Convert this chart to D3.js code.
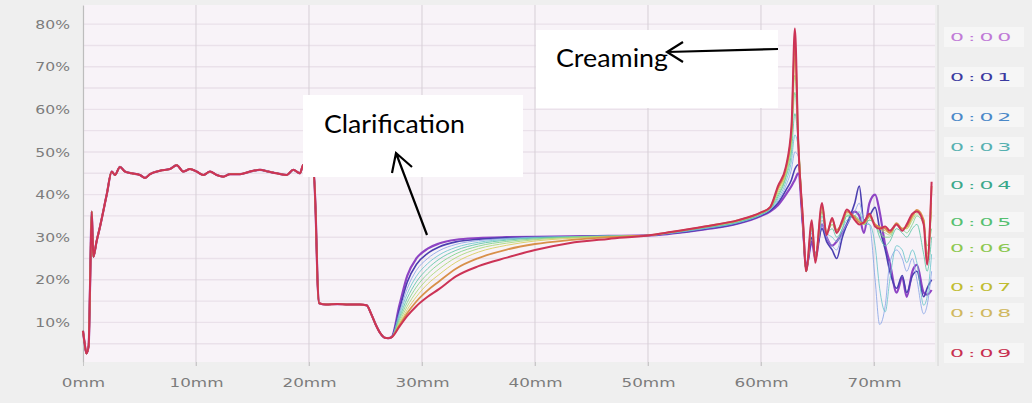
<!DOCTYPE html>
<html>
<head>
<meta charset="utf-8">
<script src="https://cdn.jsdelivr.net/npm/d3@7"></script>
<style>
  html, body { margin: 0; padding: 0; background: #efefef; }
  svg { display: block; }
</style>
</head>
<body>
<svg id="chart" width="1032" height="403"></svg>
<script>
// ---------- data ----------
const seriesLabels = ["0:00", "0:01", "0:02", "0:03", "0:04", "0:05", "0:06", "0:07", "0:08", "0:09"];

// Common trace shared by every scan from the bottom of the tube up to the clear zone (mm, %)
const leadMm = [0, 0.15, 0.3, 0.5, 0.62, 0.77, 0.85, 0.92, 1.2, 1.5, 2.1, 2.54, 2.83, 3.27, 3.72, 4.3,
  5.04, 5.49, 5.93, 6.81, 7.7, 8.29, 8.88, 9.47, 10.06, 10.65, 11.24, 11.83, 12.42, 13.0, 13.9, 14.78,
  15.66, 16.4, 17.14, 18.02, 18.61, 19.2, 19.5, 20.0, 20.4, 20.6, 20.75, 20.9, 21.5, 22.5, 23.5, 24.5,
  25.1, 25.5, 25.9, 26.3, 26.7, 27.0];
const leadPct = [8.0, 5.0, 2.7, 4.5, 18, 36, 30, 25.4, 29, 32.4, 40, 45.4, 44.6, 46.5, 45.4, 45.0,
  44.6, 43.9, 44.8, 45.6, 46.0, 46.9, 45.4, 46.0, 45.4, 44.6, 45.4, 44.6, 44.2, 44.8, 44.8, 45.4,
  45.8, 45.4, 45.0, 44.6, 45.8, 45.0, 47.0, 46.0, 45.5, 35, 20, 14.5, 14.2, 14.3, 14.2, 14.2,
  14.0, 12.0, 9.5, 7.5, 6.4, 6.3];

// Per-scan trace from the clear zone to the top of the sample (mm)
const tailMm = [27.3, 28.0, 28.7, 29.5, 30.5, 31.5, 33, 35, 37.5, 40, 43, 46.5, 50,
  52, 55, 58, 60,
  60.8, 61.5, 62.2, 62.7, 63.0, 63.3, 63.7,
  64.0, 64.5, 64.8, 65.4, 65.8, 66.3, 66.7, 67.2, 67.6, 68.3, 68.7, 69.1, 69.6, 70.1, 70.5,
  71.0, 71.4, 72.0, 72.5, 72.9, 73.4, 73.8, 74.4, 74.7, 75.1];

const tail00 = [6.5, 14, 21, 25, 27.3, 28.5, 29.4, 29.8, 30, 30.1, 30.2, 30.3, 30.4,
  30.8, 31.8, 33.2, 35,
  36, 37.5, 40, 42, 43.5, 45, 33,
  23, 29, 25, 33, 30, 28, 29, 31, 33, 36, 35, 31, 38, 40, 36,
  28, 24, 17, 20.5, 16, 22, 23.5, 17, 16.5, 17.6];
const tail01 = [6.5, 13, 19.5, 23.6, 26.2, 27.7, 28.9, 29.5, 29.9, 30, 30.1, 30.3, 30.4,
  30.9, 31.9, 33.3, 35.1,
  36.2, 38, 41, 43.5, 46, 47, 33,
  22, 30, 26, 32, 29, 27, 25, 30, 33, 38, 42, 34, 35, 37, 32,
  27, 22, 18, 21, 17, 21, 22, 16, 18, 20];
const tail02 = [6.5, 12.3, 18, 22.2, 25, 26.8, 28.3, 29.2, 29.7, 30, 30.1, 30.3, 30.4,
  30.9, 32, 33.4, 35.2,
  36.4, 38.5, 42, 46, 50, 49, 33,
  22, 31, 26, 33, 30, 28, 27, 31, 33, 36, 38, 34, 33, 20, 9.5,
  14, 24, 27, 25, 22, 25, 20, 12, 14, 22];
const tail03 = [6.5, 11.7, 16.8, 20.8, 23.8, 25.8, 27.6, 28.8, 29.5, 29.9, 30.1, 30.3, 30.4,
  31, 32.1, 33.5, 35.3,
  36.5, 39, 43, 48, 54, 51, 34,
  22, 32, 25, 34, 31, 30, 29, 32, 34, 35, 36, 33, 33, 28, 18,
  12.5, 20, 28, 27, 24, 27, 24, 14, 16, 26];
const tail04 = [6.5, 11.1, 15.7, 19.5, 22.6, 24.8, 26.9, 28.4, 29.3, 29.8, 30, 30.2, 30.4,
  31, 32.2, 33.6, 35.4,
  36.6, 39.5, 44, 50, 59, 52, 34,
  22, 32, 25, 35, 31, 32, 30, 32, 35, 35, 34, 33, 34, 33, 30,
  28, 29, 32, 31, 30, 32, 33, 26, 22, 30];
const tail05 = [6.5, 10.6, 14.7, 18.3, 21.4, 23.7, 26.1, 27.9, 29, 29.6, 30, 30.2, 30.4,
  31.1, 32.3, 33.7, 35.5,
  36.7, 40, 44.5, 52, 64, 53, 34,
  22, 33, 25, 36, 31, 33, 31, 33, 35, 35, 34, 33, 34, 33, 31,
  30, 30, 33, 32, 31, 33, 35, 33, 28, 32];
const tail06 = [6.5, 10.1, 13.8, 17.1, 20.2, 22.5, 25.2, 27.3, 28.6, 29.4, 29.9, 30.2, 30.4,
  31.1, 32.4, 33.8, 35.6,
  36.8, 40.5, 45, 53, 68, 54, 34.5,
  22, 33, 25, 36, 31, 33, 31, 33, 35.5, 34.5, 34, 33, 34.5, 33, 32,
  31, 30.5, 33, 32, 32, 34, 35.5, 34, 26, 36];
const tail07 = [6.5, 9.7, 13, 16, 19, 21.2, 24.1, 26.5, 28.1, 29.1, 29.7, 30.1, 30.4,
  31.2, 32.4, 33.9, 35.7,
  36.9, 41, 45.5, 54, 72, 53, 34.5,
  22, 33, 25, 37, 31, 34, 31.5, 33.5, 36, 34.5, 33.5, 33, 35, 33, 32,
  31.5, 31, 33, 32, 32, 34.5, 36, 34, 25, 38];
const tail08 = [6.5, 9.3, 12.2, 14.9, 17.5, 19.6, 22.6, 25.1, 27.1, 28.4, 29.3, 30, 30.4,
  31.2, 32.5, 34, 35.8,
  37, 41.5, 46, 55, 76, 52, 34.7,
  22, 33, 25, 37.5, 31, 34, 31.7, 33.5, 36, 34.7, 33.5, 33.3, 35, 33, 32.4,
  32, 31, 33.3, 32, 32.5, 35, 36.4, 34, 24, 42];
const tail09 = [6.5, 9, 11.5, 13.8, 16, 17.8, 20.8, 23.2, 25.2, 27, 28.6, 29.6, 30.4,
  31.2, 32.5, 34, 35.8,
  37, 42, 46.5, 56, 79, 52, 34.7,
  22, 34, 24, 38, 30.5, 34.5, 31, 34, 36.5, 34, 33, 33.5, 35.5, 32.5, 32,
  32.5, 31.5, 33, 31.5, 33, 35.5, 36, 33, 23.5, 43];

const tailSeries = [tail00, tail01, tail02, tail03, tail04, tail05, tail06, tail07, tail08, tail09];

const yTickValues = [10, 20, 30, 40, 50, 60, 70, 80];
const yTickLabels = ["10%", "20%", "30%", "40%", "50%", "60%", "70%", "80%"];
const yGridValues = [5, 10, 15, 20, 25, 30, 35, 40, 45, 50, 55, 60, 65, 70, 75, 80];
const xTickValues = [0, 10, 20, 30, 40, 50, 60, 70];
const xTickLabels = ["0mm", "10mm", "20mm", "30mm", "40mm", "50mm", "60mm", "70mm"];

// ---------- styling ----------
const lineColors = ["#8e44c4", "#4b3fb0", "#8aa6e6", "#6cc6cc", "#5cc4a4", "#7cd488", "#a8d874", "#d6cc58", "#d8904a", "#cc3356"];
const lineWidths = [2.2, 1.6, 1.0, 1.0, 1.0, 1.0, 1.0, 1.0, 1.8, 2.0];
const legendColors = ["#c07ad6", "#3a3aa0", "#4a88c8", "#55b0b0", "#3aa88a", "#55c070", "#8cc850", "#c0bc30", "#d0b860", "#c83050"];
const legendRowY = [37, 77, 117, 147, 185, 222, 248, 287, 313, 353];

const svg = d3.select("#chart");
const plot = { left: 83, right: 935, top: 5, bottom: 362 };

const x = d3.scaleLinear().domain([0, 75.4]).range([plot.left, plot.right]);
const y = d3.scaleLinear().domain([0.7, 84.5]).range([plot.bottom, plot.top]);

// page background
svg.append("rect").attr("width", 1032).attr("height", 403).attr("fill", "#efefef");

// plot background
svg.append("rect")
  .attr("x", plot.left).attr("y", plot.top)
  .attr("width", plot.right - plot.left).attr("height", plot.bottom - plot.top)
  .attr("fill", "#f8f3f8");

// horizontal grid every 5 %
svg.append("g").selectAll("line").data(yGridValues).join("line")
  .attr("x1", plot.left).attr("x2", plot.right)
  .attr("y1", d => y(d)).attr("y2", d => y(d))
  .attr("stroke", "#eae1ea").attr("stroke-width", 1.4);

// vertical grid every 10 mm
svg.append("g").selectAll("line").data(xTickValues.slice(1)).join("line")
  .attr("x1", d => x(d)).attr("x2", d => x(d))
  .attr("y1", plot.top).attr("y2", plot.bottom + 4)
  .attr("stroke", "#d6cfd6").attr("stroke-width", 1);

// axes
const yAxis = svg.append("g").attr("transform", `translate(${plot.left},0)`)
  .call(d3.axisLeft(y).tickValues(yTickValues).tickFormat((d, i) => yTickLabels[i]).tickSize(0));
yAxis.select(".domain").attr("stroke", "#bdbdbd").attr("stroke-width", 1.2);
yAxis.selectAll("text")
  .attr("x", 0).attr("dy", "0.35em").attr("text-anchor", "end")
  .attr("transform", "translate(-13,0) scale(1.3,1)")
  .attr("fill", "#7c7c7c").style("font-family", "DejaVu Sans").style("font-size", "12px");

const xAxis = svg.append("g").attr("transform", `translate(0,${plot.bottom})`)
  .call(d3.axisBottom(x).tickValues(xTickValues).tickFormat((d, i) => xTickLabels[i]).tickSize(4));
xAxis.select(".domain").remove();
xAxis.selectAll(".tick line").attr("stroke", "#c8c8c8");
xAxis.selectAll("text")
  .attr("y", 0).attr("dy", "0.35em").attr("text-anchor", "middle")
  .attr("transform", "translate(0,21) scale(1.4,1)")
  .attr("fill", "#7c7c7c").style("font-family", "DejaVu Sans").style("font-size", "12px");

// right border of plot
svg.append("line")
  .attr("x1", plot.right + 3).attr("x2", plot.right + 3)
  .attr("y1", plot.top).attr("y2", plot.bottom + 4)
  .attr("stroke", "#d4d4d4");

// transmission profiles
const profiles = seriesLabels.map((label, i) => {
  const pts = leadMm.map((m, k) => ({ mm: m, pct: leadPct[k] }));
  tailMm.forEach((m, k) => pts.push({ mm: m, pct: tailSeries[i][k] }));
  return { label, pts, color: lineColors[i], width: lineWidths[i] };
});

const line = d3.line().x(d => x(d.mm)).y(d => y(d.pct)).curve(d3.curveMonotoneX);

svg.append("g").selectAll("path").data(profiles).join("path")
  .attr("d", d => line(d.pts))
  .attr("fill", "none")
  .attr("stroke", d => d.color)
  .attr("stroke-width", d => d.width)
  .attr("stroke-linejoin", "round")
  .attr("opacity", (d, i) => (i >= 2 && i <= 7) ? 0.85 : 1);

// legend
const legend = svg.append("g");
legend.selectAll("rect").data(seriesLabels).join("rect")
  .attr("x", 944).attr("y", (d, i) => legendRowY[i] - 10)
  .attr("width", 80).attr("height", 20)
  .attr("fill", "#f6f6f6");
legend.selectAll("text").data(seriesLabels).join("text")
  .attr("transform", (d, i) => `translate(950,${legendRowY[i]}) scale(2,1)`)
  .attr("dy", "0.35em")
  .attr("fill", (d, i) => legendColors[i])
  .style("font-family", "DejaVu Sans").style("font-size", "11px").style("letter-spacing", "2px")
  .text(d => d);

// annotations
function arrow(g, x1, y1, x2, y2, a1, a2) {
  g.append("path")
    .attr("d", `M${x1},${y1}L${x2},${y2}M${a1[0]},${a1[1]}L${x2},${y2}L${a2[0]},${a2[1]}`)
    .attr("fill", "none").attr("stroke", "#000").attr("stroke-width", 2.2);
}

const notes = svg.append("g");
notes.append("rect").attr("x", 303).attr("y", 95).attr("width", 220).attr("height", 82).attr("fill", "#fff");
notes.append("text").attr("x", 324).attr("y", 133)
  .attr("textLength", 141).attr("lengthAdjust", "spacingAndGlyphs")
  .style("font-family", "Lato").style("font-size", "25px").attr("fill", "#000")
  .text("Clarification");
arrow(notes, 427, 235, 396, 153, [392, 173], [412, 167]);

notes.append("rect").attr("x", 536).attr("y", 30).attr("width", 242).attr("height", 78).attr("fill", "#fff");
notes.append("text").attr("x", 556).attr("y", 67)
  .attr("textLength", 112).attr("lengthAdjust", "spacingAndGlyphs")
  .style("font-family", "Lato").style("font-size", "25px").attr("fill", "#000")
  .text("Creaming");
arrow(notes, 778, 49, 667, 52, [683, 42], [683, 62]);
</script>
</body>
</html>
